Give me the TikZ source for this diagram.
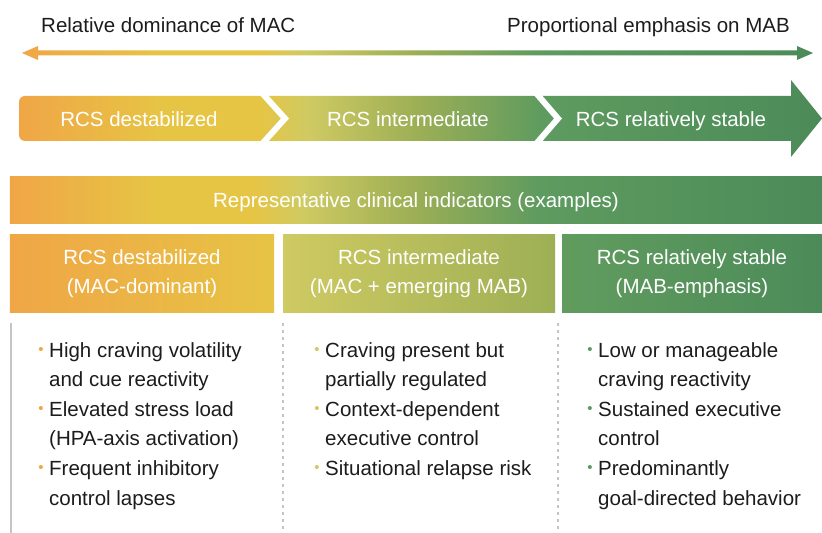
\documentclass[tikz,border=0pt]{standalone}
\usepackage{fontspec}
\setmainfont{Liberation Sans}
\usetikzlibrary{positioning}

\definecolor{orng}{HTML}{F0A646}
\definecolor{yell}{HTML}{E6C545}
\definecolor{lime}{HTML}{CFCA62}
\definecolor{olive}{HTML}{9DAF55}
\definecolor{grn}{HTML}{5E9B5F}
\definecolor{dkgrn}{HTML}{4C8B59}
\definecolor{ink}{HTML}{1C1C1C}
\definecolor{rulegray}{HTML}{C4C4C4}

% orange -> yellow -> green ramp used by the axis, the band and the banner
\pgfdeclarehorizontalshading{mabshade}{100bp}{
  color(0bp)=(orng); color(25bp)=(orng); color(34bp)=(yell);
  color(40bp)=(yell); color(43bp)=(lime); color(49.7bp)=(olive);
  color(57.6bp)=(grn); color(75bp)=(dkgrn); color(100bp)=(dkgrn)}

\newcommand\txtsize{\fontsize{20.5bp}{29.6bp}\selectfont}
\newcommand\bul[1]{\llap{\textcolor{#1}{\raisebox{2.5bp}{\fontsize{15bp}{15bp}\selectfont\textbullet}}\hspace{5.5bp}}}

\tikzset{
  toplbl/.style={font=\txtsize, text=ink, inner sep=0pt},
  stage/.style={font=\txtsize, text=white, inner sep=0pt, anchor=base},
  hdr/.style={font=\fontsize{20.5bp}{29bp}\selectfont, text=white, align=center,
    inner sep=0pt, outer sep=0pt, minimum height=77bp},
  % lists are pinned at the baseline of their last line
  items/.style={font=\txtsize, text=ink, align=left, inner sep=0pt, anchor=base west},
  sep/.style={white, line width=6bp, miter limit=10},
  dashrule/.style={rulegray, line width=1.2bp, dash pattern=on 3bp off 4bp}
}

\begin{document}
\begin{tikzpicture}[x=1bp, y=-1bp]
  \useasboundingbox[fill=white] (0,0) rectangle (822,533);

  % double headed axis
  \shade[shading=mabshade] (22,53) -- (38,46) -- (38,50.5) -- (797,50.5)
    -- (797,46) -- (813,53) -- (797,60) -- (797,55.5) -- (38,55.5) -- (38,60) -- cycle;
  \node[toplbl, anchor=base west] (mac) at (41,33) {Relative dominance of MAC};
  \node[toplbl, anchor=base east] (mab) at (790,33) {Proportional emphasis on MAB};

  % stage band with arrow head
  \shade[shading=mabshade] (19,118.5) [rounded corners=6bp] -- (19,96) -- (300,96)
    [sharp corners] -- (791,96) -- (791,80) -- (822,118.5) -- (791,157) -- (791,141)
    -- (300,141) [rounded corners=6bp] -- (19,141) -- cycle;
  \draw[sep] (262,93) -- (285,118.5) -- (262,144);
  \draw[sep] (536,93) -- (558,118.5) -- (536,144);
  \node[stage] (s1) at (139,127) {RCS destabilized};
  \node[stage] (s2) at (408,127) {RCS intermediate};
  \node[stage] (s3) at (671,127) {RCS relatively stable};

  % banner
  \node[shading=mabshade, font=\txtsize, text=white, inner sep=0pt,
    minimum width=812bp, minimum height=47bp, text height=15bp, text depth=0bp]
    (ind) at (416,200.5) {Representative clinical indicators (examples)};

  % column heads
  \node[hdr, left color=orng, right color=yell!95!orng, minimum width=264bp]
    (h1) at (142,273.5) {RCS destabilized\\(MAC-dominant)};
  \node[hdr, left color=lime, right color=olive, minimum width=272bp]
    (h2) at (419,273.5) {RCS intermediate\\(MAC + emerging MAB)};
  \node[hdr, left color=grn!95!olive, right color=dkgrn, minimum width=260bp]
    (h3) at (692,273.5) {RCS relatively stable\\(MAB-emphasis)};

  % column rules
  \draw[rulegray, line width=2bp] (11,323) -- (11,533);
  \draw[dashrule] (283,323) -- (283,533);
  \draw[dashrule] (558,323) -- (558,533);

  % indicator lists
  \node[items] (l1) at (49,505) {\bul{orng}High craving volatility\\
    and cue reactivity\\
    \bul{orng}Elevated stress load\\
    (HPA-axis activation)\\
    \bul{orng}Frequent inhibitory\\
    control lapses};
  \node[items] (l2) at (325,475.4) {\bul{lime}Craving present but\\
    partially regulated\\
    \bul{lime}Context-dependent\\
    executive control\\
    \bul{lime}Situational relapse risk};
  \node[items] (l3) at (598,505) {\bul{grn}Low or manageable\\
    craving reactivity\\
    \bul{grn}Sustained executive\\
    control\\
    \bul{grn}Predominantly\\
    goal-directed behavior};
\end{tikzpicture}
\end{document}
